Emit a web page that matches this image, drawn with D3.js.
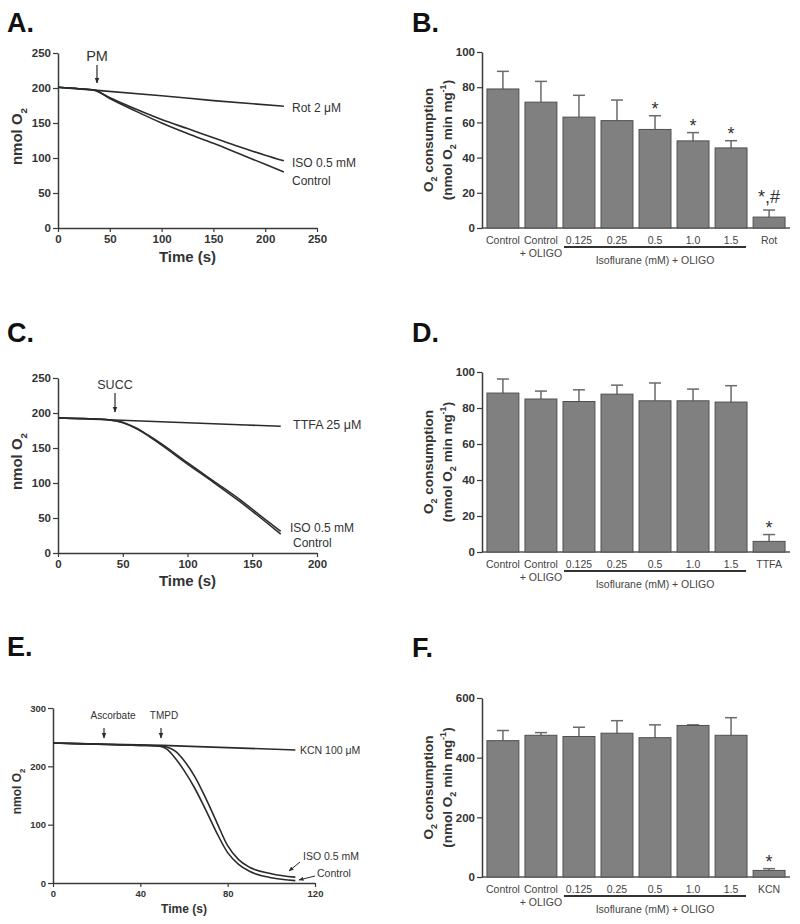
<!DOCTYPE html>
<html><head><meta charset="utf-8">
<script src="https://cdn.jsdelivr.net/npm/d3@7"></script>
<style>
body{margin:0;background:#fff}
svg{display:block}
text{font-family:"Liberation Sans", Arial, sans-serif;}
</style>
</head><body><svg id="c" width="800" height="924"></svg>
<script>
// ---------- Panel A (PM) ----------
const aTime    = [0, 20, 35, 50, 75, 100, 125, 150, 175, 200, 218];
const aControl = [201, 199, 197, 185, 167, 150, 135, 121, 106, 91, 80];
const aIso     = [201, 199, 197, 186, 170, 155, 142, 129, 116, 104, 96];
const aRotTime = [0, 35, 100, 150, 218];
const aRot     = [201, 197, 189, 182, 174];
const aXTicks  = [0, 50, 100, 150, 200, 250];
const aYTicks  = [0, 50, 100, 150, 200, 250];

// ---------- Panel C (SUCC) ----------
const cTime     = [0, 20, 40, 50, 60, 70, 80, 100, 120, 140, 160, 172];
const cControl  = [193, 192, 190, 186, 178, 167, 154, 127, 101, 74, 45, 27];
const cIso      = [193, 192, 190, 187, 179, 168, 156, 129, 103, 77, 48, 31];
const cTtfaTime = [0, 44, 172];
const cTtfa     = [193, 190, 181];
const cXTicks   = [0, 50, 100, 150, 200];
const cYTicks   = [0, 50, 100, 150, 200, 250];

// ---------- Panel E (Ascorbate/TMPD) ----------
const eTime    = [0, 20, 40, 48, 52, 56, 60, 65, 70, 75, 80, 85, 90, 100, 111];
const eControl = [240, 238, 236, 235, 230, 214, 193, 162, 125, 86, 52, 32, 20, 9, 4];
const eIso     = [240, 238, 236, 235, 233, 226, 210, 182, 145, 104, 64, 40, 27, 16, 10];
const eKcnTime = [0, 50, 111];
const eKcn     = [240, 236, 228];
const eXTicks  = [0, 40, 80, 120];
const eYTicks  = [0, 100, 200, 300];

// ---------- Bar panels ----------
const bCategories = ["Control", "Control + OLIGO", "0.125", "0.25", "0.5", "1.0", "1.5", "Rot"];
const bValues = [79, 71.5, 63, 61, 56, 49.5, 45.5, 6.2];
const bErrors = [10, 11.8, 12.4, 11.7, 7.8, 4.7, 4.1, 4];
const bStars  = ["", "", "", "", "*", "*", "*", "*,#"];
const bYTicks = [0, 20, 40, 60, 80, 100];

const dCategories = ["Control", "Control + OLIGO", "0.125", "0.25", "0.5", "1.0", "1.5", "TTFA"];
const dValues = [88.3, 85, 83.6, 87.7, 84, 84, 83.3, 5.9];
const dErrors = [7.8, 4.4, 6.5, 5, 9.9, 6.5, 9.1, 3.8];
const dStars  = ["", "", "", "", "", "", "", "*"];
const dYTicks = [0, 20, 40, 60, 80, 100];

const fCategories = ["Control", "Control + OLIGO", "0.125", "0.25", "0.5", "1.0", "1.5", "KCN"];
const fValues = [457, 475, 471, 482, 467, 508, 475, 22];
const fErrors = [34, 9, 31, 42, 43, 2, 59, 6];
const fStars  = ["", "", "", "", "", "", "", "*"];
const fYTicks = [0, 200, 400, 600];

const svg = d3.select("#c");
const INK = "#2b2b2b";
const TXT = "#333";

svg.append("defs").append("marker")
  .attr("id", "ah").attr("viewBox", "0 0 10 10").attr("refX", 9).attr("refY", 5)
  .attr("markerWidth", 5).attr("markerHeight", 5).attr("orient", "auto-start-reverse")
  .append("path").attr("d", "M0,1 L10,5 L0,9 Z").attr("fill", INK);

function styleAxis(sel, fs, bold) {
  sel.select(".domain").attr("stroke", "#3a3a3a").attr("stroke-width", 1.5);
  sel.selectAll(".tick line").attr("stroke", "#3a3a3a").attr("stroke-width", 1.2);
  sel.selectAll(".tick text").attr("font-size", fs).attr("font-weight", bold ? "bold" : "normal").attr("fill", TXT);
}

function panelLetter(t, x, y) {
  svg.append("text").attr("x", x).attr("y", y).attr("font-size", 27).attr("font-weight", "bold")
    .attr("fill", "#111").text(t);
}

function yLabelO2(x, y, fs) {
  const t = svg.append("text").attr("transform", `translate(${x},${y}) rotate(-90)`)
    .attr("text-anchor", "middle").attr("font-size", fs).attr("font-weight", "bold").attr("fill", TXT);
  t.append("tspan").text("nmol O");
  t.append("tspan").attr("font-size", fs * 0.65).attr("dy", fs * 0.3).text("2");
}

function downArrow(x, y1, y2) {
  svg.append("line").attr("x1", x).attr("x2", x).attr("y1", y1).attr("y2", y2)
    .attr("stroke", INK).attr("stroke-width", 1.2).attr("marker-end", "url(#ah)");
}

function linePanel(cfg) {
  const x = d3.scaleLinear().domain(cfg.xDomain).range(cfg.xRange);
  const y = d3.scaleLinear().domain(cfg.yDomain).range(cfg.yRange);
  const g = svg.append("g");
  const ax = g.append("g").attr("transform", `translate(0,${cfg.yRange[0]})`)
    .call(d3.axisBottom(x).tickValues(cfg.xTicks).tickSize(4).tickSizeOuter(0).tickPadding(3));
  styleAxis(ax, cfg.tickFs, true);
  const ay = g.append("g").attr("transform", `translate(${cfg.xRange[0]},0)`)
    .call(d3.axisLeft(y).tickValues(cfg.yTicks).tickSize(5).tickSizeOuter(0).tickPadding(2));
  styleAxis(ay, cfg.tickFs, true);
  const line = d3.line().x(d => x(d[0])).y(d => y(d[1])).curve(d3.curveMonotoneX);
  cfg.series.forEach(s => {
    g.append("path").datum(d3.zip(s.t, s.v)).attr("d", line)
      .attr("fill", "none").attr("stroke", INK).attr("stroke-width", s.w || 1.6);
  });
  svg.append("text").attr("x", (cfg.xRange[0] + cfg.xRange[1]) / 2).attr("y", cfg.timeY)
    .attr("text-anchor", "middle").attr("font-size", cfg.timeFs).attr("font-weight", "bold")
    .attr("fill", TXT).text("Time (s)");
  yLabelO2(cfg.ylx, (cfg.yRange[0] + cfg.yRange[1]) / 2 - 4, cfg.ylFs);
  return {x, y};
}

function note(x, y, fs, txt, anchor) {
  svg.append("text").attr("x", x).attr("y", y).attr("font-size", fs).attr("fill", TXT)
    .attr("text-anchor", anchor || "start").text(txt);
}

function barPanel(cfg) {
  const x = d3.scaleBand().domain(cfg.cats).range([482, 790]).paddingInner(0.16).paddingOuter(0.13);
  const y = d3.scaleLinear().domain([0, cfg.yMax]).range([cfg.y0, cfg.yTop]);
  const g = svg.append("g");
  g.append("line").attr("x1", 482).attr("x2", 790).attr("y1", cfg.y0).attr("y2", cfg.y0)
    .attr("stroke", "#555").attr("stroke-width", 1.5);
  const ay = g.append("g").attr("transform", `translate(482,0)`)
    .call(d3.axisLeft(y).tickValues(cfg.yTicks).tickSize(5).tickSizeOuter(0).tickPadding(2));
  styleAxis(ay, 11.5, true);
  const bw = x.bandwidth();
  cfg.cats.forEach((c, i) => {
    const cx = x(c) + bw / 2;
    const top = y(cfg.vals[i] + cfg.errs[i]);
    g.append("line").attr("x1", cx).attr("x2", cx).attr("y1", y(cfg.vals[i])).attr("y2", top)
      .attr("stroke", "#6a6a6a").attr("stroke-width", 1.5);
    g.append("line").attr("x1", cx - 6).attr("x2", cx + 6).attr("y1", top).attr("y2", top)
      .attr("stroke", "#6a6a6a").attr("stroke-width", 1.5);
    if (cfg.stars[i]) {
      g.append("text").attr("x", cx).attr("y", top - (cfg.stars[i].length > 1 ? 7 : 1))
        .attr("text-anchor", "middle").attr("font-size", 18).attr("fill", TXT).text(cfg.stars[i]);
    }
  });
  g.selectAll("rect.bar").data(cfg.vals).join("rect").attr("class", "bar")
    .attr("x", (d, i) => x(cfg.cats[i])).attr("width", bw)
    .attr("y", d => y(d)).attr("height", d => cfg.y0 - y(d))
    .attr("fill", "#808080").attr("stroke", "#4f4f4f").attr("stroke-width", 1);
  cfg.cats.forEach((c, i) => {
    const cx = x(c) + bw / 2;
    const parts = c === "Control + OLIGO" ? ["Control", "+ OLIGO"] : [c];
    parts.forEach((p, k) => {
      g.append("text").attr("x", cx).attr("y", cfg.y0 + 15.5 + k * 13.5).attr("text-anchor", "middle")
        .attr("font-size", 10.5).attr("fill", "#444").text(p);
    });
  });
  const x1 = x(cfg.cats[2]) + 1, x2 = x(cfg.cats[6]) + bw - 1;
  g.append("line").attr("x1", x1).attr("x2", x2).attr("y1", cfg.y0 + 19).attr("y2", cfg.y0 + 19)
    .attr("stroke", "#333").attr("stroke-width", 2);
  g.append("text").attr("x", (x1 + x2) / 2).attr("y", cfg.y0 + 36).attr("text-anchor", "middle")
    .attr("font-size", 10.5).attr("fill", "#444").text("Isoflurane (mM) + OLIGO");
  const cy = (cfg.y0 + cfg.yTop) / 2;
  const t1 = svg.append("text").attr("transform", `translate(433,${cy}) rotate(-90)`)
    .attr("text-anchor", "middle").attr("font-size", 13.5).attr("font-weight", "bold").attr("fill", TXT);
  t1.append("tspan").text("O");
  t1.append("tspan").attr("font-size", 9).attr("dy", 4).text("2");
  t1.append("tspan").attr("dy", -4).text(" consumption");
  const t2 = svg.append("text").attr("transform", `translate(452,${cy}) rotate(-90)`)
    .attr("text-anchor", "middle").attr("font-size", 13.5).attr("font-weight", "bold").attr("fill", TXT);
  t2.append("tspan").text("(nmol O");
  t2.append("tspan").attr("font-size", 9).attr("dy", 4).text("2");
  t2.append("tspan").attr("dy", -4).text(" min mg");
  t2.append("tspan").attr("font-size", 9).attr("dy", -6).text("-1");
  t2.append("tspan").attr("dy", 6).text(")");
}

// ===== Panel A =====
panelLetter("A.", 7, 32);
linePanel({
  xDomain: [0, 250], xRange: [58, 317], yDomain: [0, 250], yRange: [228, 53],
  xTicks: aXTicks, yTicks: aYTicks, tickFs: 11.5, timeY: 262, timeFs: 15, ylx: 22, ylFs: 15,
  series: [{t: aTime, v: aControl}, {t: aTime, v: aIso}, {t: aRotTime, v: aRot}]
});
note(97, 61, 14.5, "PM", "middle");
downArrow(97, 65, 83);
note(292, 112, 12, "Rot 2 \u03bcM");
note(292, 167, 12, "ISO 0.5 mM");
note(292, 185, 12, "Control");

// ===== Panel C =====
panelLetter("C.", 7, 342);
linePanel({
  xDomain: [0, 200], xRange: [58, 317], yDomain: [0, 250], yRange: [553, 378],
  xTicks: cXTicks, yTicks: cYTicks, tickFs: 11.5, timeY: 586, timeFs: 15, ylx: 22, ylFs: 15,
  series: [{t: cTime, v: cControl, w: 1.5}, {t: cTime, v: cIso, w: 1.5}, {t: cTtfaTime, v: cTtfa}]
});
note(115, 389, 12.5, "SUCC", "middle");
downArrow(115, 393, 412);
note(293, 429, 12.5, "TTFA 25 \u03bcM");
note(290, 532, 12, "ISO 0.5 mM");
note(293, 547, 12, "Control");

// ===== Panel E =====
panelLetter("E.", 7, 656);
linePanel({
  xDomain: [0, 120], xRange: [53, 315], yDomain: [0, 300], yRange: [883, 708],
  xTicks: eXTicks, yTicks: eYTicks, tickFs: 9.5, timeY: 913, timeFs: 12, ylx: 21, ylFs: 12,
  series: [{t: eTime, v: eControl}, {t: eTime, v: eIso}, {t: eKcnTime, v: eKcn}]
});
note(113, 719, 10, "Ascorbate", "middle");
downArrow(104, 728, 738);
note(164, 719, 10, "TMPD", "middle");
downArrow(161, 728, 738);
note(300, 754, 10.5, "KCN 100 \u03bcM");
note(303, 860, 10.5, "ISO 0.5 mM");
note(317, 877, 10.5, "Control");
svg.append("line").attr("x1", 300).attr("y1", 862).attr("x2", 289).attr("y2", 871)
  .attr("stroke", INK).attr("stroke-width", 1).attr("marker-end", "url(#ah)");
svg.append("line").attr("x1", 315).attr("y1", 876).attr("x2", 299).attr("y2", 880)
  .attr("stroke", INK).attr("stroke-width", 1).attr("marker-end", "url(#ah)");

// ===== Bar panels =====
panelLetter("B.", 412, 32);
barPanel({cats: bCategories, vals: bValues, errs: bErrors, stars: bStars, yMax: 100, yTicks: bYTicks, y0: 228, yTop: 52});
panelLetter("D.", 412, 342);
barPanel({cats: dCategories, vals: dValues, errs: dErrors, stars: dStars, yMax: 100, yTicks: dYTicks, y0: 552, yTop: 372});
panelLetter("F.", 412, 657);
barPanel({cats: fCategories, vals: fValues, errs: fErrors, stars: fStars, yMax: 600, yTicks: fYTicks, y0: 877, yTop: 698});
</script></body></html>
